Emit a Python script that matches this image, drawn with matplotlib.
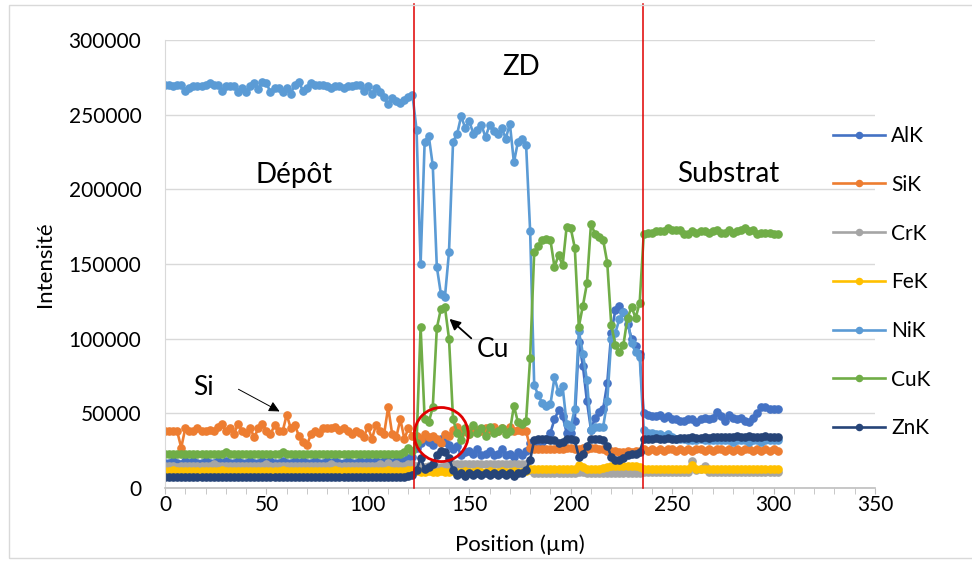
import numpy as np
import matplotlib
matplotlib.use("Agg")
import matplotlib.pyplot as plt
from matplotlib.patches import Ellipse, Rectangle

plt.rcParams['font.family'] = ['Lato', 'DejaVu Sans']

# Positions (µm): one point every 2 µm, 0 .. 302
position = np.arange(0, 304, 2)

# Intensities in thousands of counts  (Dépôt 0-122 | ZD 124-234 | Substrat 236-302)
alk = [17, 17, 18, 17, 16, 18, 17, 18, 17, 17,
       18, 17, 17, 18, 17, 18, 17, 17, 18, 17,
       17, 18, 17, 17, 18, 17, 18, 17, 17, 18,
       17, 17, 18, 17, 18, 17, 17, 18, 17, 17,
       18, 17, 18, 17, 17, 18, 17, 17, 18, 17,
       18, 17, 18, 17, 18, 18, 17, 18, 19, 18,
       20, 21,
       27, 30, 33, 31, 29, 32, 33, 31, 29, 26,
       28, 22, 24, 25, 23, 26, 22, 23, 25, 22,
       23, 26, 22, 23, 21, 24, 22, 25, 30, 31,
       29, 31, 33, 37, 46, 52, 48, 37, 37, 45,
       98, 82, 58, 39, 47, 51, 53, 70, 104, 119,
       122, 118, 110, 100, 95, 90,
       50, 49, 48, 48, 49, 47, 48, 46, 46, 45,
       45, 46, 46, 44, 46, 47, 46, 47, 51, 48,
       45, 49, 47, 46, 47, 45, 44, 47, 50, 54,
       54, 53, 53, 53]

sik = [38, 38, 38, 38, 27, 40, 38, 38, 40, 38,
       38, 39, 38, 41, 43, 38, 40, 36, 43, 38,
       37, 40, 34, 40, 43, 38, 36, 42, 38, 38,
       49, 40, 42, 35, 31, 29, 36, 38, 37, 40,
       40, 40, 41, 39, 40, 38, 36, 38, 37, 34,
       41, 33, 42, 38, 36, 54, 36, 34, 46, 33,
       40, 35,
       35, 33, 36, 34, 35, 33, 30, 36, 35, 39,
       41, 37, 38, 36, 40, 39, 38, 40, 39, 41,
       38, 40, 39, 41, 38, 39, 38, 38, 27, 26,
       26, 26, 26, 26, 26, 26, 26, 27, 27, 26,
       26, 27, 26, 27, 27, 26, 26, 25, 25, 25,
       24, 24, 25, 24, 25, 25,
       26, 25, 26, 25, 26, 25, 26, 26, 25, 26,
       25, 26, 25, 26, 26, 25, 26, 25, 26, 26,
       25, 26, 25, 26, 25, 26, 26, 25, 26, 25,
       26, 25, 26, 25]

crk = [15, 15, 15, 14, 15, 15, 15, 15, 15, 15,
       15, 15, 16, 15, 15, 15, 15, 15, 15, 15,
       15, 15, 15, 15, 15, 16, 15, 15, 15, 15,
       15, 15, 15, 15, 15, 15, 15, 15, 15, 15,
       15, 16, 15, 15, 15, 15, 15, 15, 15, 15,
       15, 15, 15, 16, 15, 17, 15, 16, 15, 15,
       16, 16,
       15, 14, 14, 15, 15, 14, 14, 15, 15, 16,
       16, 16, 16, 16, 16, 16, 16, 16, 16, 16,
       16, 16, 16, 16, 16, 16, 16, 16, 12, 10,
       10, 10, 10, 10, 10, 10, 10, 10, 10, 10,
       11, 11, 10, 10, 10, 10, 10, 10, 10, 10,
       10, 10, 10, 10, 10, 10,
       11, 11, 11, 11, 11, 11, 11, 11, 11, 11,
       11, 11, 18, 12, 13, 15, 11, 11, 11, 11,
       11, 11, 11, 11, 11, 11, 11, 11, 11, 11,
       11, 11, 11, 11]

fek = [11.5, 11.5, 11.8, 11.5, 11.5, 11.6, 11.5, 11.5, 11.7, 11.5,
       11.5, 11.6, 11.5, 11.5, 11.8, 11.5, 11.5, 11.5, 11.6, 11.5,
       11.5, 11.5, 11.7, 11.5, 11.5, 11.6, 11.5, 11.5, 11.5, 11.8,
       11.5, 11.5, 11.6, 11.5, 11.5, 11.5, 11.7, 11.5, 11.5, 11.6,
       11.5, 11.5, 11.8, 11.5, 11.5, 11.6, 11.5, 11.5, 11.5, 11.7,
       11.5, 11.5, 11.6, 11.5, 11.5, 11.8, 11.5, 11.5, 11.6, 11.5,
       11.8, 12.0,
       11.5, 11.0, 11.0, 11.2, 11.0, 11.0, 11.2, 11.0, 11.0, 11.2,
       11.0, 11.0, 11.2, 11.0, 11.0, 11.2, 11.0, 11.0, 11.2, 11.0,
       11.0, 11.2, 11.0, 11.0, 11.2, 11.0, 11.0, 11.5, 12.5, 13.0,
       13.0, 13.0, 13.0, 13.0, 13.0, 13.0, 13.0, 13.0, 13.0, 13.0,
       15.5, 14.0, 13.0, 13.0, 13.0, 13.0, 13.5, 14.0, 14.5, 14.5,
       15.0, 14.5, 14.5, 14.5, 14.5, 14.0,
       12.5, 12.5, 12.5, 12.5, 12.5, 12.5, 12.5, 12.5, 12.5, 12.5,
       12.5, 12.5, 15.5, 13.0, 12.5, 12.5, 12.5, 12.5, 12.5, 12.5,
       12.5, 12.5, 12.5, 12.5, 12.5, 12.5, 12.5, 12.5, 12.5, 12.5,
       12.5, 12.5, 12.5, 12.5]

nik = [270, 270, 269, 270, 270, 266, 268, 269, 269, 269,
       270, 271, 270, 270, 266, 269, 269, 269, 265, 268,
       265, 269, 271, 267, 272, 271, 265, 268, 268, 265,
       268, 264, 270, 272, 266, 268, 271, 270, 270, 270,
       269, 268, 269, 269, 268, 269, 269, 270, 270, 266,
       269, 264, 268, 265, 262, 257, 261, 259, 258, 260,
       262, 263,
       240, 150, 232, 236, 216, 148, 130, 128, 158, 232,
       237, 249, 241, 246, 237, 240, 243, 235, 243, 239,
       237, 241, 234, 244, 218, 232, 234, 230, 172, 69,
       62, 57, 55, 56, 74, 64, 68, 43, 41, 53,
       105, 90, 72, 39, 41, 41, 41, 58, 100, 104,
       113, 118, 113, 97, 91, 88,
       39, 37, 37, 36, 36, 35, 36, 34, 33, 33,
       33, 32, 32, 32, 33, 32, 32, 32, 32, 32,
       32, 32, 31, 32, 32, 32, 31, 32, 32, 31,
       32, 32, 32, 32]

cuk = [23, 23, 23, 23, 23, 23, 23, 23, 23, 23,
       23, 23, 23, 23, 23, 24, 23, 23, 23, 23,
       23, 23, 23, 23, 23, 23, 23, 23, 23, 24,
       23, 23, 23, 23, 23, 23, 23, 23, 23, 23,
       23, 23, 23, 23, 23, 23, 23, 23, 23, 23,
       23, 23, 23, 23, 23, 23, 23, 23, 23, 24,
       27, 25,
       30, 108, 46, 44, 54, 107, 120, 121, 100, 46,
       37, 32, 40, 36, 42, 37, 40, 35, 41, 37,
       38, 40, 36, 38, 55, 44, 43, 45, 87, 158,
       162, 166, 167, 166, 148, 156, 149, 175, 174, 161,
       108, 122, 137, 177, 170, 168, 166, 151, 109, 96,
       91, 96, 114, 121, 114, 124,
       170, 171, 171, 172, 172, 172, 174, 173, 173, 173,
       170, 170, 172, 171, 172, 172, 171, 172, 173, 171,
       171, 173, 171, 172, 173, 174, 172, 173, 170, 171,
       171, 171, 170, 170]

znk = [7.5, 7.5, 7.5, 7.5, 7.5, 7.5, 7.5, 7.5, 7.5, 7.5,
       7.5, 7.5, 7.5, 7.5, 7.5, 7.5, 7.5, 7.5, 7.5, 7.5,
       7.5, 7.5, 7.5, 7.5, 7.5, 7.5, 7.5, 7.5, 7.5, 7.5,
       7.5, 7.5, 7.5, 7.5, 7.5, 7.5, 7.5, 7.5, 7.5, 7.5,
       7.5, 7.5, 7.5, 7.5, 7.5, 7.5, 7.5, 7.5, 7.5, 7.5,
       7.5, 7.5, 7.5, 7.5, 7.5, 7.5, 7.5, 7.5, 7.5, 7.5,
       8.0, 9.0,
       12, 20, 13, 14, 16, 22, 25, 24, 20, 12,
       9, 10, 8, 10, 9, 10, 9, 10, 9, 10,
       9, 10, 9, 10, 8, 10, 10, 12, 19, 32,
       33, 33, 33, 32, 32, 30, 31, 33, 33, 32,
       21, 23, 28, 33, 33, 33, 32, 28, 21, 19,
       19, 20, 22, 23, 23, 24,
       33, 33, 33, 33.5, 33, 33, 33.5, 33, 33, 33.5,
       33.5, 33.5, 34, 33.5, 33.5, 34, 33.5, 34, 34, 34,
       34, 34, 34, 34.5, 34, 34, 34.5, 34, 34, 34,
       34.5, 34, 34, 34]

series = [("AlK", alk, "#4472C4"), ("SiK", sik, "#ED7D31"), ("CrK", crk, "#A5A5A5"),
          ("FeK", fek, "#FFC000"), ("NiK", nik, "#5B9BD5"), ("CuK", cuk, "#70AD47"),
          ("ZnK", znk, "#264478")]

boundaries = [122.9, 235.4]

W, H = 972, 563
fig = plt.figure(figsize=(W / 100, H / 100), dpi=100)
ax = fig.add_axes([165 / W, 75 / H, 710 / W, 448 / H])

for name, vals, col in series:
    ax.plot(position, np.array(vals) * 1000, color=col, lw=1.9, marker='o',
            markersize=5.2, label=name)

# zone boundaries
for xb in boundaries:
    ax.axvline(xb, ymin=0, ymax=(488 - 4) / 448, color='#E00000', lw=1.1,
               clip_on=False, zorder=5)

ax.set_xlim(0, 350)
ax.set_ylim(0, 300000)
ax.set_yticks(np.arange(0, 300001, 50000))
ax.set_xticks(np.arange(0, 351, 50))
ax.set_xticks(np.arange(0, 351, 10), minor=True)
ax.grid(axis='y', color='#D9D9D9', lw=1)
ax.set_axisbelow(True)
for s in ['top', 'right']:
    ax.spines[s].set_visible(False)
ax.spines['left'].set_color('#D9D9D9')
ax.spines['bottom'].set_color('#BFBFBF')
ax.spines['bottom'].set_linewidth(1.2)
ax.tick_params(axis='y', length=0, pad=17, labelsize=15)
ax.tick_params(axis='x', which='both', length=4, color='#BFBFBF', labelsize=15, pad=1)

ax.set_xlabel('Position (µm)', fontsize=16, labelpad=14)
ax.set_ylabel('Intensité', fontsize=16, labelpad=10)

# zone labels and annotations
ax.text(175.7, 282000, 'ZD', fontsize=20, ha='center', va='center')
ax.text(63.7, 209500, 'Dépôt', fontsize=20, ha='center', va='center')
ax.text(277.4, 210000, 'Substrat', fontsize=20, ha='center', va='center')
ax.text(18.8, 67000, 'Si', fontsize=19, ha='center', va='center')
ax.text(161.9, 93000, 'Cu', fontsize=19, ha='center', va='center')
ax.annotate('', xy=(57.7, 50400), xytext=(35, 67000),
            arrowprops=dict(arrowstyle='-|>', color='black', lw=0.7, mutation_scale=16))
ax.annotate('', xy=(139.2, 114500), xytext=(152, 99000),
            arrowprops=dict(arrowstyle='-|>', color='black', lw=1.3, mutation_scale=16))
ax.add_patch(Ellipse((136.2, 35800), 26.6, 36200, fill=False, ec='#E00000', lw=2, zorder=6))

ax.legend(loc='upper left', bbox_to_anchor=(833 / W, 1 - 126 / H),
          bbox_transform=fig.transFigure, frameon=False, fontsize=15,
          labelspacing=1.38, handlelength=2.5, handletextpad=0.3,
          borderpad=0, borderaxespad=0, markerscale=0.85)

fig.add_artist(Rectangle((9 / W, 5 / H), 1.0, 1 - 10 / H, transform=fig.transFigure,
                         fill=False, ec='#D9D9D9', lw=1))

fig.savefig('out.png', dpi=100)
plt.close(fig)
